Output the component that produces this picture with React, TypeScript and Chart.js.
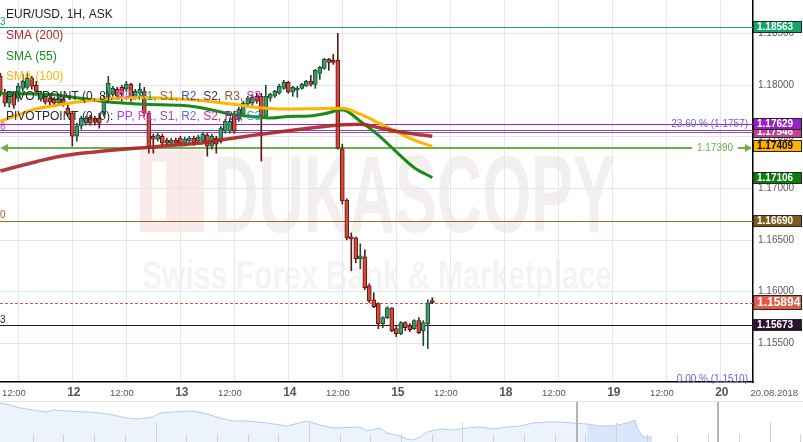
import React, { useEffect, useRef } from 'react';
import { Chart, registerables } from 'chart.js';

Chart.register(...registerables);

// ---------------- data ----------------
// time axis in hours after "11" 00:00; first hourly candle at hour 8
const firstCandleHour = 8;

const candleOpen = [
  1.18087, 1.17923, 1.17826, 1.17913, 1.17875, 1.17971, 1.17981, 1.18068, 1.18000, 1.17865,
  1.17894, 1.17875, 1.17865, 1.17826, 1.17865, 1.17778, 1.17730, 1.17507, 1.17604, 1.17633,
  1.17691, 1.17681, 1.17681, 1.17720, 1.17875, 1.17913, 1.17962, 1.17981, 1.17962, 1.18010,
  1.17884, 1.17923, 1.17942, 1.17730, 1.17507, 1.17478, 1.17507, 1.17469, 1.17440, 1.17469,
  1.17488, 1.17440, 1.17459, 1.17488, 1.17459, 1.17459, 1.17517, 1.17411, 1.17488, 1.17459,
  1.17556, 1.17556, 1.17720, 1.17672, 1.17720, 1.17817, 1.17826, 1.17894, 1.17894, 1.17701,
  1.17875, 1.17894, 1.17923, 1.17971, 1.18029, 1.17933, 1.17952, 1.17971, 1.17991, 1.18039,
  1.18010, 1.18116, 1.18165, 1.18251, 1.18242, 1.18242, 1.17382, 1.16889, 1.16531, 1.16522,
  1.16319, 1.16338, 1.16058, 1.15922, 1.15884, 1.15691, 1.15749, 1.15845, 1.15642, 1.15594,
  1.15700, 1.15671, 1.15642, 1.15720, 1.15623, 1.15691, 1.15903,
];
const candleHigh = [
  1.18116, 1.17962, 1.17942, 1.17942, 1.18020, 1.18107, 1.18116, 1.18087, 1.18039, 1.17942,
  1.17923, 1.17904, 1.17884, 1.17884, 1.17884, 1.17817, 1.17749, 1.17633, 1.17701, 1.17701,
  1.17710, 1.17701, 1.17730, 1.17894, 1.18087, 1.17991, 1.17981, 1.18000, 1.18039, 1.18020,
  1.17962, 1.18020, 1.17981, 1.17749, 1.17527, 1.17536, 1.17527, 1.17488, 1.17488, 1.17488,
  1.17507, 1.17498, 1.17507, 1.17507, 1.17517, 1.17546, 1.17536, 1.17527, 1.17507, 1.17604,
  1.17672, 1.17681, 1.17749, 1.17788, 1.17846, 1.17894, 1.17913, 1.17923, 1.17923, 1.18000,
  1.17923, 1.17952, 1.18010, 1.18049, 1.18039, 1.17991, 1.17991, 1.18020, 1.18049, 1.18097,
  1.18155, 1.18184, 1.18261, 1.18261, 1.18300, 1.18503, 1.17430, 1.16899, 1.16570, 1.16531,
  1.16464, 1.16406, 1.16077, 1.15990, 1.15893, 1.15758, 1.15855, 1.15845, 1.15671, 1.15710,
  1.15710, 1.15691, 1.15729, 1.15749, 1.15720, 1.15922, 1.15942,
];
const candleLow = [
  1.17894, 1.17797, 1.17788, 1.17778, 1.17846, 1.17942, 1.17962, 1.17962, 1.17904, 1.17846,
  1.17817, 1.17807, 1.17807, 1.17807, 1.17797, 1.17701, 1.17411, 1.17459, 1.17575, 1.17614,
  1.17614, 1.17614, 1.17585, 1.17701, 1.17855, 1.17894, 1.17865, 1.17846, 1.17942, 1.17846,
  1.17865, 1.17894, 1.17701, 1.17343, 1.17343, 1.17459, 1.17420, 1.17420, 1.17420, 1.17420,
  1.17420, 1.17420, 1.17440, 1.17420, 1.17440, 1.17440, 1.17314, 1.17382, 1.17343, 1.17440,
  1.17536, 1.17536, 1.17536, 1.17652, 1.17701, 1.17797, 1.17807, 1.17826, 1.17266, 1.17691,
  1.17846, 1.17884, 1.17913, 1.17962, 1.17923, 1.17894, 1.17884, 1.17962, 1.17991, 1.17991,
  1.17971, 1.18058, 1.18155, 1.18145, 1.18203, 1.17382, 1.16850, 1.16502, 1.16203, 1.16280,
  1.16222, 1.16019, 1.15893, 1.15845, 1.15642, 1.15652, 1.15739, 1.15613, 1.15565, 1.15584,
  1.15623, 1.15613, 1.15633, 1.15594, 1.15478, 1.15449, 1.15884,
];
const candleClose = [
  1.17942, 1.17826, 1.17913, 1.17807, 1.17991, 1.18039, 1.18068, 1.17991, 1.17942, 1.17913,
  1.17836, 1.17836, 1.17826, 1.17865, 1.17817, 1.17720, 1.17507, 1.17604, 1.17681, 1.17681,
  1.17633, 1.17643, 1.17633, 1.17875, 1.18020, 1.17971, 1.17894, 1.17913, 1.18010, 1.17875,
  1.17942, 1.17962, 1.17730, 1.17401, 1.17478, 1.17517, 1.17440, 1.17440, 1.17469, 1.17440,
  1.17440, 1.17478, 1.17488, 1.17440, 1.17498, 1.17527, 1.17411, 1.17507, 1.17430, 1.17585,
  1.17652, 1.17652, 1.17556, 1.17768, 1.17826, 1.17875, 1.17884, 1.17846, 1.17701, 1.17894,
  1.17913, 1.17942, 1.17991, 1.18029, 1.17933, 1.17981, 1.17971, 1.18010, 1.18039, 1.18010,
  1.18145, 1.18174, 1.18251, 1.18222, 1.18222, 1.17391, 1.16879, 1.16522, 1.16512, 1.16319,
  1.16348, 1.16038, 1.15913, 1.15855, 1.15691, 1.15749, 1.15845, 1.15623, 1.15594, 1.15700,
  1.15652, 1.15633, 1.15720, 1.15604, 1.15700, 1.15893, 1.15894,
];

const smaHours = [8, 12, 16, 20, 24, 28, 32, 36, 40, 44, 48, 52, 56, 60, 64, 68, 72, 76, 80, 84, 88, 92, 96, 100, 104];
const sma200 = [
  1.17169, 1.17216, 1.17260, 1.17301, 1.17329, 1.17350, 1.17368, 1.17383, 1.17396, 1.17411,
  1.17424, 1.17438, 1.17464, 1.17489, 1.17515, 1.17538, 1.17560, 1.17581, 1.17600, 1.17617,
  1.17623, 1.17592, 1.17555, 1.17529, 1.17507,
];
const sma55 = [
  1.17923, 1.17919, 1.17916, 1.17908, 1.17884, 1.17862, 1.17839, 1.17826, 1.17816, 1.17811,
  1.17807, 1.17788, 1.17752, 1.17714, 1.17698, 1.17683, 1.17699, 1.17701, 1.17725, 1.17763,
  1.17652, 1.17517, 1.17356, 1.17202, 1.17106,
];
const sma100 = [
  1.17652, 1.17715, 1.17773, 1.17802, 1.17832, 1.17853, 1.17870, 1.17879, 1.17881, 1.17876,
  1.17867, 1.17856, 1.17837, 1.17816, 1.17791, 1.17775, 1.17770, 1.17772, 1.17776, 1.17778,
  1.17720, 1.17638, 1.17552, 1.17469, 1.17409,
];

// horizontal levels
const levelValues = [1.18563, 1.17629, 1.1757, 1.17546, 1.1739, 1.1669, 1.15894, 1.15673];
// boxes on the price axis
const boxValues = [1.18563, 1.17546, 1.17629, 1.17409, 1.17106, 1.1669, 1.15894, 1.15673];
// cut-off labels at the left edge
const edgeLabelTexts = ['3', '6', '0', '3'];
const edgeLabelValues = [1.18563, 1.17546, 1.1669, 1.15673];
// fibonacci texts
const fibTexts = ['23.60 % (1.1757)', '0.00 % (1.1510)'];
const fibValues = [1.1757, 1.151];
const alertValue = 1.1739;

// axis labels
const halfDayHours = [12, 36, 60, 84, 108, 132, 156];
const halfDayLabel = '12:00';
const dayHours = [24, 48, 72, 96, 120, 144, 168];
const dayLabels = ['12', '13', '14', '15', '18', '19', '20'];
const dateLabel = '20.08.2018';
const dateLabelHour = 180;

// legend texts
const titleText = 'EUR/USD, 1H, ASK';
const smaNames = ['SMA (200)', 'SMA (55)', 'SMA (100)'];
const pivotHeaders = ['PIVOTPOINT (0, 8): ', 'PIVOTPOINT (0, 0): '];
const pivotItems = ['PP', 'R1', 'S1', 'R2', 'S2', 'R3', 'S3'];
const watermarkTitle = 'DUKASCOPY';
const watermarkSub = 'Swiss Forex Bank & Marketplace';

// navigator overview series
const navX = [0, 10, 20, 33, 47, 53, 67, 87, 100, 113, 127, 137, 153, 160, 173, 193, 207, 220, 233, 247,
  267, 287, 307, 320, 333, 360, 367, 380, 387, 400, 407, 413, 420, 427, 440, 453, 467, 480, 493, 507,
  520, 533, 547, 560, 573, 587, 600, 613, 627, 635, 637, 643, 652];
const navLevel = [39, 37, 34, 32, 30, 32, 31, 30, 29, 27, 24, 23, 25, 29, 30, 31, 28, 24, 21, 21,
  19, 16, 21, 17, 14, 15, 11, 14, 9, 6, 3, 2, 5, 10, 13, 12, 14, 15, 13, 15,
  16, 19, 20, 20, 19, 18, 16, 16, 19, 22, 14, 5, 5];
const navSelectStart = 577;
const navSelectEnd = 718;

// ---------------- styles ----------------
const FONT = '"Liberation Sans", Arial, sans-serif';
const X_MIN = 7.9333;
const X_MAX = 175.2667;
const Y_MIN = 1.15125;
const Y_MAX = 1.18827;

const UP_FILL = '#3f9a6a';
const UP_LINE = '#1c4f35';
const DN_FILL = '#d6483a';
const DN_LINE = '#5c1a12';

const levelStyles = [
  { color: '#17a866', width: 1, dash: [] as number[] },
  { color: '#a020d0', width: 1, dash: [] as number[] },
  { color: '#5454dc', width: 1, dash: [] as number[] },
  { color: '#d040a0', width: 1, dash: [] as number[] },
  { color: '#6ab04c', width: 2, dash: [] as number[] },
  { color: '#946c22', width: 1, dash: [] as number[] },
  { color: '#e8503a', width: 1, dash: [3, 2] },
  { color: '#2d1530', width: 1, dash: [] as number[] },
];
const boxStyles = [
  { fill: '#14a56b', text: '#fff', h: 12, size: 10 },
  { fill: '#c0428a', text: '#fff', h: 12, size: 10 },
  { fill: '#9b1fc9', text: '#fff', h: 12, size: 10 },
  { fill: '#ffb000', text: '#111', h: 12, size: 10 },
  { fill: '#0b7d0b', text: '#fff', h: 12, size: 10 },
  { fill: '#7d5a1e', text: '#fff', h: 12, size: 10 },
  { fill: '#e05a45', text: '#fff', h: 15, size: 12 },
  { fill: '#2e1330', text: '#fff', h: 12, size: 10 },
];
const edgeLabelColors = ['#1a9e63', '#d040a0', '#8b6420', '#2d1530'];
const smaColors = ['#b0282a', '#1a8a1a', '#ffb400'];
const pivotColors = [
  ['#cc66cc', '#1fa07a', '#8a6a40', '#3a5aa8', '#4a2a5a', '#8a5a3a', '#c030b0'],
  ['#b040e0', '#e040e0', '#a040c0', '#6a6ae0', '#c03070', '#8a2aa0', '#30a0c0'],
];

export default function App() {
  const mainRef = useRef<HTMLCanvasElement>(null);
  const navRef = useRef<HTMLCanvasElement>(null);

  useEffect(() => {
    const hours = candleOpen.map((_, i) => firstCandleHour + i);
    const isUp = (i: number) => candleClose[i] >= candleOpen[i];

    const overlay = {
      id: 'overlay',
      beforeDraw(chart: any) {
        const ctx = chart.ctx as CanvasRenderingContext2D;
        ctx.save();
        // watermark logo box
        ctx.fillStyle = '#fbeaea';
        ctx.fillRect(140, 150, 64, 82);
        ctx.fillStyle = '#ffffff';
        ctx.fillRect(152, 162, 14, 58);
        // watermark title
        ctx.fillStyle = '#f3efef';
        ctx.font = `bold 110px ${FONT}`;
        ctx.textBaseline = 'alphabetic';
        ctx.textAlign = 'left';
        const w = ctx.measureText(watermarkTitle).width;
        ctx.save();
        ctx.translate(213, 232);
        ctx.scale(402 / w, 1);
        ctx.fillText(watermarkTitle, 0, 0);
        ctx.restore();
        ctx.fillStyle = '#f4f4f4';
        ctx.font = `bold 40px ${FONT}`;
        const w2 = ctx.measureText(watermarkSub).width;
        ctx.save();
        ctx.translate(142, 289);
        ctx.scale(470 / w2, 1);
        ctx.fillText(watermarkSub, 0, 0);
        ctx.restore();
        ctx.restore();
      },
      beforeDatasetsDraw(chart: any) {
        const ctx = chart.ctx as CanvasRenderingContext2D;
        const ys = chart.scales.y;
        const area = chart.chartArea;
        ctx.save();
        levelValues.forEach((v, i) => {
          const st = levelStyles[i];
          const y = Math.round(ys.getPixelForValue(v)) + (st.width === 1 ? 0.5 : 0);
          ctx.strokeStyle = st.color;
          ctx.lineWidth = st.width;
          ctx.setLineDash(st.dash);
          ctx.beginPath();
          if (v === alertValue) {
            ctx.moveTo(area.left + 6, y);
            ctx.lineTo(692, y);
          } else {
            ctx.moveTo(area.left, y);
            ctx.lineTo(area.right, y);
          }
          ctx.stroke();
        });
        ctx.setLineDash([]);
        // alert line decorations
        const ya = Math.round(ys.getPixelForValue(alertValue));
        const g = levelStyles[4].color;
        ctx.fillStyle = g;
        ctx.beginPath();
        ctx.moveTo(area.left, ya);
        ctx.lineTo(area.left + 8, ya - 4);
        ctx.lineTo(area.left + 8, ya + 4);
        ctx.closePath();
        ctx.fill();
        ctx.strokeStyle = g;
        ctx.lineWidth = 2;
        ctx.beginPath();
        ctx.moveTo(738, ya);
        ctx.lineTo(746, ya);
        ctx.stroke();
        ctx.beginPath();
        ctx.moveTo(752, ya);
        ctx.lineTo(745, ya - 4);
        ctx.lineTo(745, ya + 4);
        ctx.closePath();
        ctx.fill();
        ctx.font = `10px ${FONT}`;
        ctx.textAlign = 'center';
        ctx.textBaseline = 'middle';
        ctx.fillText(alertValue.toFixed(5), 715, ya + 0.5);
        ctx.restore();
      },
      afterDraw(chart: any) {
        const ctx = chart.ctx as CanvasRenderingContext2D;
        const ys = chart.scales.y;
        const xs = chart.scales.x;
        const area = chart.chartArea;
        ctx.save();
        // fib texts
        ctx.font = `10px ${FONT}`;
        ctx.textAlign = 'right';
        ctx.textBaseline = 'middle';
        ctx.fillStyle = '#6464dc';
        fibTexts.forEach((t, i) => ctx.fillText(t, 748, ys.getPixelForValue(fibValues[i]) - 5.5));
        // edge labels
        ctx.textAlign = 'left';
        ctx.font = `10px ${FONT}`;
        edgeLabelTexts.forEach((t, i) => {
          ctx.fillStyle = edgeLabelColors[i];
          ctx.fillText(t, 0, ys.getPixelForValue(edgeLabelValues[i]) - 5);
        });
        // legend
        ctx.font = `12px ${FONT}`;
        ctx.fillStyle = '#222';
        ctx.fillText(titleText, 6, 15);
        smaNames.forEach((t, i) => {
          ctx.fillStyle = smaColors[i];
          ctx.fillText(t, 6, 36 + i * 20.2);
        });
        pivotHeaders.forEach((hdr, r) => {
          const y = 96.5 + r * 20.5;
          let x = 6;
          ctx.fillStyle = '#2a2a2a';
          ctx.fillText(hdr, x, y);
          x += ctx.measureText(hdr).width;
          pivotItems.forEach((it, k) => {
            const s = it + (k < pivotItems.length - 1 ? ', ' : '');
            ctx.fillStyle = pivotColors[r][k];
            ctx.fillText(s, x, y);
            x += ctx.measureText(s).width;
          });
        });
        // price boxes
        boxValues.forEach((v, i) => {
          const st = boxStyles[i];
          const yc = ys.getPixelForValue(v);
          const top = Math.round(yc - st.h / 2);
          ctx.fillStyle = st.fill;
          ctx.fillRect(area.right, top, 49, st.h);
          ctx.strokeStyle = '#262626';
          ctx.lineWidth = 1;
          ctx.strokeRect(area.right + 0.5, top + 0.5, 48, st.h - 1);
          ctx.fillStyle = st.text;
          ctx.font = `bold ${st.size}px ${FONT}`;
          ctx.textAlign = 'left';
          ctx.textBaseline = 'middle';
          ctx.fillText(v.toFixed(5), area.right + 4, top + st.h / 2 + 0.5);
        });
        // time labels
        ctx.fillStyle = '#555';
        ctx.textAlign = 'center';
        ctx.textBaseline = 'middle';
        ctx.font = `9.5px ${FONT}`;
        halfDayHours.forEach((h) => ctx.fillText(halfDayLabel, xs.getPixelForValue(h) - 4.3, 393));
        ctx.fillText(dateLabel, xs.getPixelForValue(dateLabelHour), 393);
        ctx.font = `bold 12px ${FONT}`;
        dayHours.forEach((h, i) => ctx.fillText(dayLabels[i], xs.getPixelForValue(h) + 1.5, 393));
        // separator above navigator
        ctx.strokeStyle = '#e4e4e4';
        ctx.lineWidth = 1;
        ctx.beginPath();
        ctx.moveTo(0, 401.5);
        ctx.lineTo(803, 401.5);
        ctx.stroke();
        ctx.restore();
      },
    };

    const main = new Chart(mainRef.current as HTMLCanvasElement, {
      type: 'bar',
      data: {
        datasets: [
          {
            type: 'line',
            label: smaNames[0],
            data: smaHours.map((h, i) => ({ x: h, y: sma200[i] })),
            borderColor: 'rgba(172,34,36,0.9)',
            borderWidth: 3.5,
            pointRadius: 0,
            cubicInterpolationMode: 'monotone',
            order: 0,
          } as any,
          {
            type: 'line',
            label: smaNames[2],
            data: smaHours.map((h, i) => ({ x: h, y: sma100[i] })),
            borderColor: smaColors[2],
            borderWidth: 3,
            pointRadius: 0,
            cubicInterpolationMode: 'monotone',
            order: 0,
          } as any,
          {
            type: 'line',
            label: smaNames[1],
            data: smaHours.map((h, i) => ({ x: h, y: sma55[i] })),
            borderColor: smaColors[1],
            borderWidth: 3,
            pointRadius: 0,
            cubicInterpolationMode: 'monotone',
            order: 0,
          } as any,
          {
            type: 'bar',
            label: 'body',
            data: hours.map((h, i) => ({ x: h, y: [candleOpen[i], candleClose[i]] })),
            backgroundColor: (c: any) => (isUp(c.dataIndex) ? UP_FILL : DN_FILL),
            borderColor: (c: any) => (isUp(c.dataIndex) ? UP_LINE : DN_LINE),
            borderWidth: 1,
            borderSkipped: false,
            barThickness: 4,
            minBarLength: 2,
            grouped: false,
            order: 1,
          } as any,
          {
            type: 'bar',
            label: 'wick',
            data: hours.map((h, i) => ({ x: h, y: [candleLow[i], candleHigh[i]] })),
            backgroundColor: (c: any) => (isUp(c.dataIndex) ? UP_LINE : DN_LINE),
            borderWidth: 0,
            barThickness: 1,
            grouped: false,
            order: 2,
          } as any,
        ],
      },
      options: {
        responsive: false,
        animation: false,
        devicePixelRatio: 1,
        events: [],
        layout: { padding: 0 },
        plugins: { legend: { display: false }, tooltip: { enabled: false } },
        scales: {
          x: {
            type: 'linear',
            min: X_MIN,
            max: X_MAX,
            offset: false,
            ticks: { display: false, stepSize: 12, includeBounds: false },
            grid: { color: '#e6e6e6', drawTicks: false, offset: false },
            border: { display: true, color: '#000', width: 1.5 },
            afterFit: (s: any) => {
              s.height = 20;
              s.paddingLeft = 0;
              s.paddingRight = 0;
            },
          },
          y: {
            type: 'linear',
            position: 'right',
            min: Y_MIN,
            max: Y_MAX,
            ticks: {
              stepSize: 0.005,
              includeBounds: false,
              padding: 5,
              color: '#5a5a5a',
              font: { family: FONT, size: 10 },
              callback: (v: any) => Number(v).toFixed(5),
            },
            grid: { color: '#e6e6e6', drawTicks: false },
            border: { display: true, color: '#000', width: 1.5 },
            afterFit: (s: any) => {
              s.width = 50;
              s.paddingTop = 0;
              s.paddingBottom = 0;
            },
          },
        } as any,
      },
      plugins: [overlay],
    });

    const navDeco = {
      id: 'navDeco',
      afterDraw(chart: any) {
        const ctx = chart.ctx as CanvasRenderingContext2D;
        const xs = chart.scales.x;
        ctx.save();
        ctx.strokeStyle = '#d2d2d2';
        ctx.lineWidth = 1;
        let k = 0;
        for (let v = 32.7; v < 803; v += 30.7, k++) {
          const x = Math.round(xs.getPixelForValue(v)) + 0.5;
          ctx.beginPath();
          ctx.moveTo(x, k % 5 === 4 ? 20 : 32);
          ctx.lineTo(x, 40);
          ctx.stroke();
        }
        ctx.strokeStyle = '#b4b4b4';
        ctx.lineWidth = 2;
        [navSelectStart, navSelectEnd].forEach((v) => {
          const x = xs.getPixelForValue(v);
          ctx.beginPath();
          ctx.moveTo(x, 0);
          ctx.lineTo(x, 40);
          ctx.stroke();
        });
        ctx.restore();
      },
    };

    const nav = new Chart(navRef.current as HTMLCanvasElement, {
      type: 'line',
      data: {
        datasets: [
          {
            data: navX.map((x, i) => ({ x, y: navLevel[i] })),
            borderColor: '#b3cbf0',
            borderWidth: 1,
            backgroundColor: '#edf3fd',
            fill: 'start',
            pointRadius: 0,
            tension: 0,
            segment: {
              backgroundColor: (c: any) => (c.p0.parsed.x >= navSelectStart ? '#dae7fa' : '#edf3fd'),
            },
          } as any,
        ],
      },
      options: {
        responsive: false,
        animation: false,
        devicePixelRatio: 1,
        events: [],
        layout: { padding: 0 },
        plugins: { legend: { display: false }, tooltip: { enabled: false } },
        scales: {
          x: { type: 'linear', min: 0, max: 803, display: false },
          y: { type: 'linear', min: 0, max: 40, display: false },
        },
      },
      plugins: [navDeco],
    });

    return () => {
      main.destroy();
      nav.destroy();
    };
  }, []);

  return (
    <div style={{ position: 'absolute', left: 0, top: 0, width: 803, height: 442, background: '#fff', overflow: 'hidden' }}>
      <canvas ref={mainRef} width={803} height={402} style={{ position: 'absolute', left: 0, top: 0 }} />
      <canvas ref={navRef} width={803} height={40} style={{ position: 'absolute', left: 0, top: 402 }} />
    </div>
  );
}
